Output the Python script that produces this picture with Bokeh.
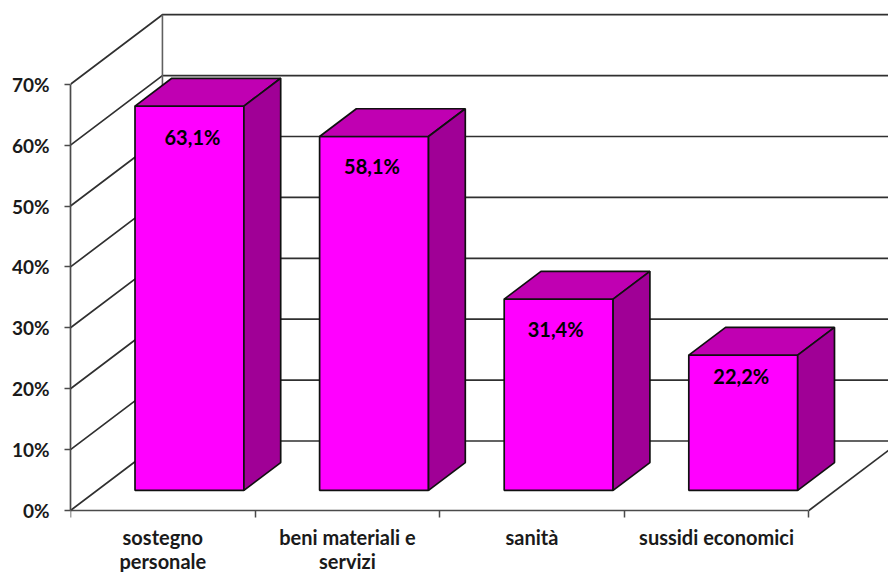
from bokeh.plotting import figure
from bokeh.models import Range1d, LinearAxis, FixedTicker, ColumnDataSource
from bokeh.core.properties import value
from bokeh.embed import file_html
from bokeh.resources import INLINE

# Data
categories_line1 = ["sostegno", "beni materiali e", "sanità", "sussidi economici"]
categories_line2 = ["personale", "servizi", "", ""]
values = [63.1, 58.1, 31.4, 22.2]
labels = ["63,1%", "58,1%", "31,4%", "22,2%"]
y_ticks = [0, 10, 20, 30, 40, 50, 60, 70]

# Oblique projection of the 3D box
DX, DY = 0.498, 11.41      # wall depth, in category and value units
D0, D1 = 0.29, 0.69        # depth of bar front and back faces
BAR = 0.59
PX_V = 6.09
XMAX = 818 / 184.6
YMAX = 510 / PX_V
YMIN = -62 / PX_V

def pr(x, v, d):
    return x + d * DX, v + d * DY

FONT = "Lato"
p = figure(width=888, height=572, output_backend="svg", toolbar_location=None,
           x_range=Range1d(0, XMAX), y_range=Range1d(YMIN, YMAX),
           x_axis_type=None, y_axis_type=None,
           min_border_left=70, min_border_right=0, min_border_top=0, min_border_bottom=0,
           outline_line_color=None, background_fill_color="white")
p.grid.visible = False

AX = "#4a4a4a"
# Side-wall and back-wall lines
xs, ys = [], []
for t in y_ticks:
    x1, y1 = pr(0, t, 1)
    xs.append([0, x1, XMAX + 1]); ys.append([t, y1, y1])
p.multi_line(xs, ys, line_color="#303030", line_width=1.7)
x1, y1 = pr(0, 0, 1); x2, y2 = pr(0, y_ticks[-1], 1)
p.line([x1, x2], [y1, y2], line_color="#606060", line_width=1.6)
# Right floor edge
n = len(values)
x3, y3 = pr(n, 0, 1)
p.line([n, x3], [0, y3], line_color="#303030", line_width=1.7)

# Bars
for i, v in enumerate(values):
    l = i + (1 - BAR) / 2
    r = l + BAR
    fl, fb = pr(l, 0, D0); fr, _ = pr(r, 0, D0); _, ft = pr(l, v, D0)
    bl, bb = pr(l, 0, D1); br, _ = pr(r, 0, D1); _, bt = pr(l, v, D1)
    p.patch([fl, fr, fr, fl], [fb, fb, ft, ft], fill_color="#FF00FF", line_color="#101010", line_width=1.7)
    p.patch([fl, fr, br, bl], [ft, ft, bt, bt], fill_color="#C000B2", line_color="#101010", line_width=1.7)
    p.patch([fr, br, br, fr], [fb, bb, bt, ft], fill_color="#A00096", line_color="#101010", line_width=1.7)

# Value labels
src = ColumnDataSource(dict(
    x=[i + 0.5 + D0 * DX for i in range(n)],
    y=[pr(0, v, D0)[1] for v in values],
    text=labels,
    xo=[3, -2, -3, -2],
    yo=[31, 29, 30, 21],
))
p.text("x", "y", text="text", x_offset="xo", y_offset="yo", source=src,
       text_font=value(FONT), text_font_style="bold", text_font_size="20px",
       text_color="#000000", text_align="center", text_baseline="middle")

# Axes
ya = LinearAxis(ticker=FixedTicker(ticks=y_ticks),
                major_label_overrides={t: f"{t}%" for t in y_ticks})
ya.bounds = (0, 70)
ya.major_tick_in = 0; ya.major_tick_out = 6; ya.minor_tick_out = 0; ya.minor_tick_in = 0
ya.axis_line_color = AX; ya.major_tick_line_color = AX
ya.axis_line_width = 1.7; ya.major_tick_line_width = 1.5
ya.major_label_standoff = 15
ya.major_label_text_font = FONT; ya.major_label_text_font_style = "bold"
ya.major_label_text_font_size = "19px"; ya.major_label_text_color = "#1a1a1a"
p.add_layout(ya, "left")

mids = [i + 0.5 for i in range(n)]
edges = list(range(n + 1))
xa = LinearAxis(ticker=FixedTicker(ticks=mids, minor_ticks=edges),
                major_label_overrides=dict(zip(mids, categories_line1)),
                fixed_location=0)
xa.bounds = (0, n)
xa.major_tick_in = 0; xa.major_tick_out = 0; xa.minor_tick_in = 0; xa.minor_tick_out = 7
xa.axis_line_color = AX; xa.minor_tick_line_color = AX
xa.axis_line_width = 1.7; xa.minor_tick_line_width = 1.5
xa.major_label_standoff = 7
xa.major_label_text_font = FONT; xa.major_label_text_font_style = "bold"
xa.major_label_text_font_size = "20px"; xa.major_label_text_color = "#1a1a1a"
p.add_layout(xa, "below")

xb = LinearAxis(ticker=FixedTicker(ticks=mids),
                major_label_overrides=dict(zip(mids, categories_line2)),
                fixed_location=-25 / PX_V)
xb.axis_line_color = None; xb.major_tick_line_color = None; xb.minor_tick_line_color = None
xb.major_tick_out = 0; xb.major_tick_in = 0; xb.minor_tick_out = 0; xb.minor_tick_in = 0
xb.major_label_standoff = 13
xb.major_label_text_font = FONT; xb.major_label_text_font_style = "bold"
xb.major_label_text_font_size = "20px"; xb.major_label_text_color = "#1a1a1a"
p.add_layout(xb, "below")

open("out.html", "w").write(file_html(p, INLINE))
